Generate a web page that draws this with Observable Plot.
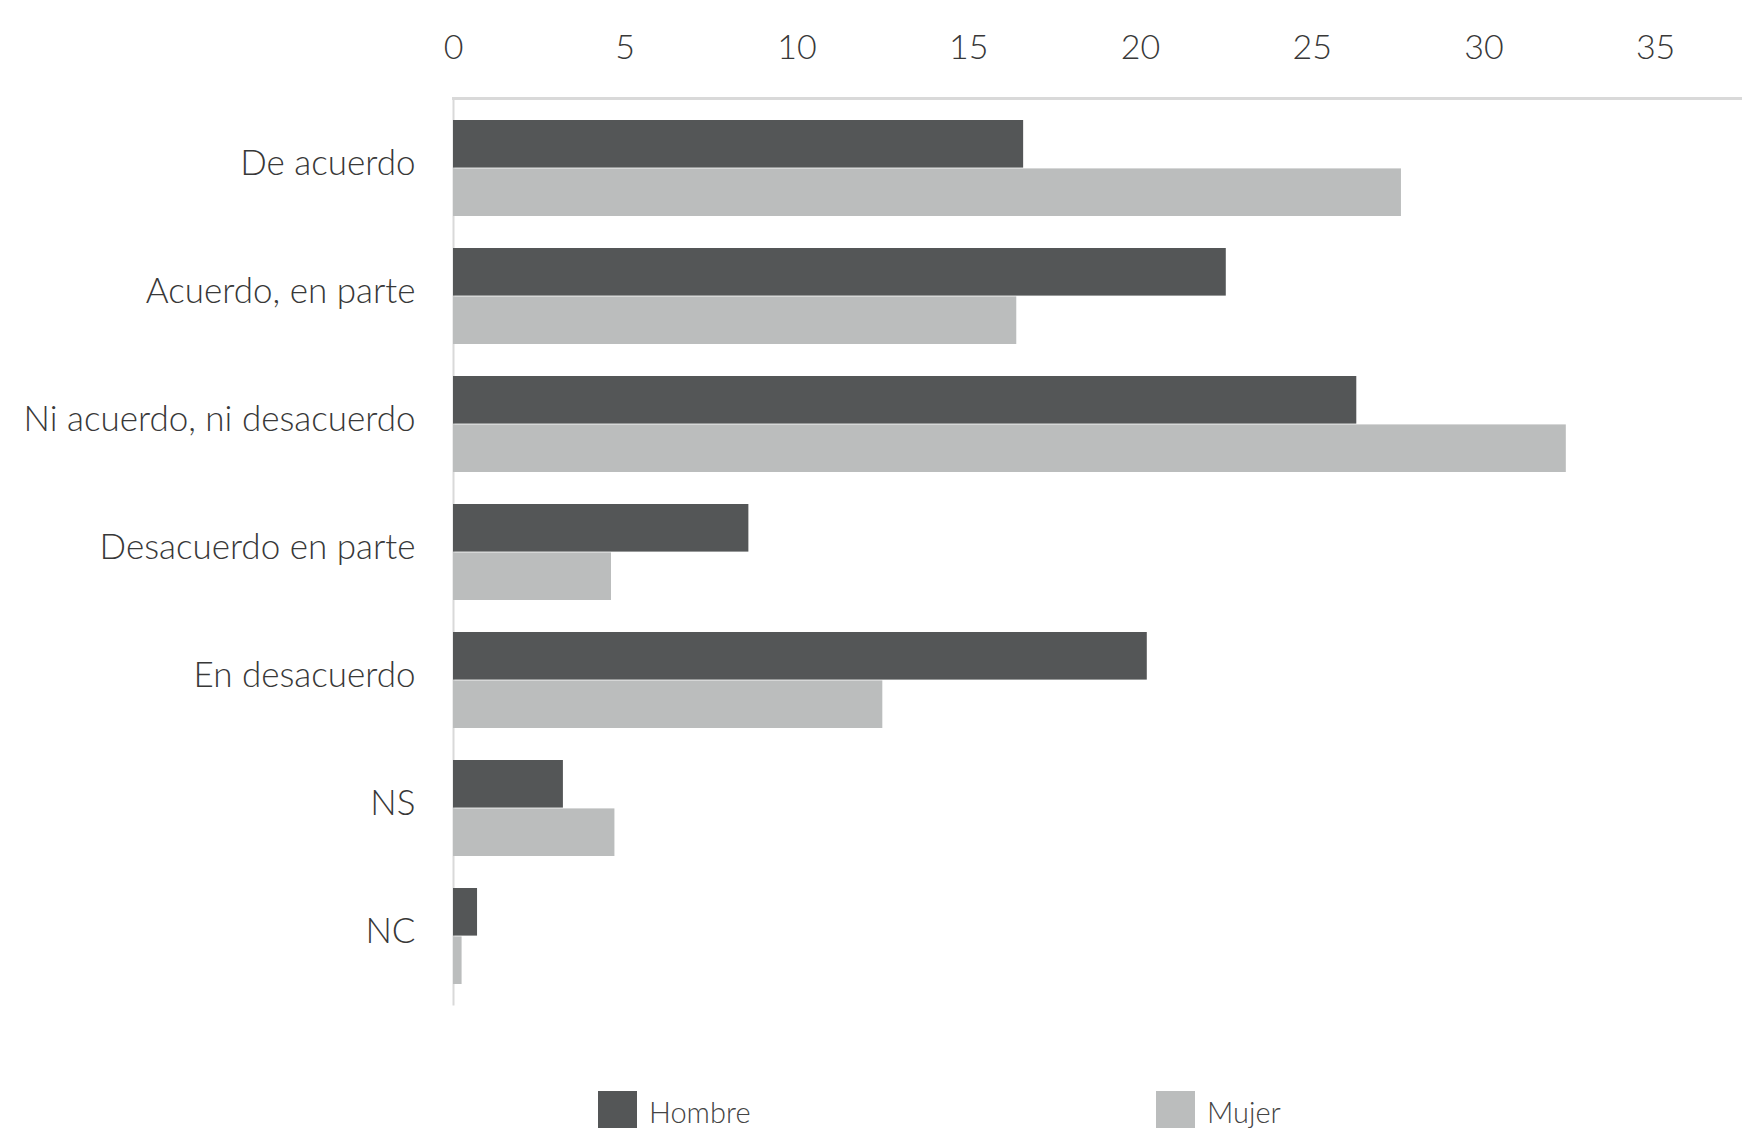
<!DOCTYPE html>
<html>
<head>
<meta charset="utf-8">
<script src="https://cdn.jsdelivr.net/npm/d3@7"></script>
<script src="https://cdn.jsdelivr.net/npm/@observablehq/plot@0.6"></script>
<style>
  html, body { margin: 0; padding: 0; background: #fff; }
  #wrap { position: relative; width: 1742px; height: 1128px; overflow: hidden; font-family: Lato, "Open Sans", sans-serif; }
  #legend { position: absolute; left: 0; top: 1091px; width: 1742px; height: 40px; }
  .item { position: absolute; top: 0; display: flex; align-items: center; gap: 12px; font-family: Lato, sans-serif; font-weight: 300; font-size: 29px; color: #444; }
  .sw { width: 39px; height: 40px; display: inline-block; }
  svg [aria-label="x-axis tick label"] text { font-size: 34px; }
  svg [aria-label="y-axis tick label"] text { font-size: 35px; }
</style>
</head>
<body>
<div id="wrap">
  <div id="chart"></div>
  <div id="legend"></div>
</div>
<script>
const categories = ["De acuerdo", "Acuerdo, en parte", "Ni acuerdo, ni desacuerdo", "Desacuerdo en parte", "En desacuerdo", "NS", "NC"];
const series = ["Hombre", "Mujer"];
const hombre = [16.6, 22.5, 26.3, 8.6, 20.2, 3.2, 0.7];
const mujer = [27.6, 16.4, 32.4, 4.6, 12.5, 4.7, 0.25];
const xTicks = [0, 5, 10, 15, 20, 25, 30, 35];
const colors = ["#545657", "#bbbdbd"];

const dataH = categories.map((c, i) => ({category: c, value: hombre[i]}));
const dataM = categories.map((c, i) => ({category: c, value: mujer[i]}));

const W = 1742, H = 1060;
const plot = Plot.plot({
  width: W,
  height: H,
  marginTop: 98,
  marginBottom: 54.6,
  marginLeft: 453,
  marginRight: 0,
  style: {fontFamily: "Lato, sans-serif", fontWeight: 300, color: "#383838", background: "#fff"},
  x: {axis: "top", domain: [0, 37.53], ticks: xTicks, tickSize: 0, tickPadding: 40, label: null},
  y: {domain: categories, paddingInner: 0.25, paddingOuter: 0.145, tickSize: 0, tickPadding: 38, label: null},
  marks: [
    Plot.frame({anchor: "top", stroke: "#d9d9d9", strokeWidth: 3}),
    Plot.ruleX([0], {stroke: "#d9d9d9", strokeWidth: 2}),
    Plot.barX(dataH, {x: "value", y: "category", fill: colors[0], insetBottom: 48.4}),
    Plot.barX(dataM, {x: "value", y: "category", fill: colors[1], insetTop: 48.4})
  ]
});
document.getElementById("chart").appendChild(plot);
d3.select(plot).selectAll('[aria-label="y-axis tick label"] text').attr("dy", "-0.14em");

const legend = d3.select("#legend");
const lefts = [598, 1156];
series.forEach((s, i) => {
  const it = legend.append("div").attr("class", "item").style("left", lefts[i] + "px");
  it.append("span").attr("class", "sw").style("background", colors[i]);
  it.append("span").text(s);
});
</script>
</body>
</html>
